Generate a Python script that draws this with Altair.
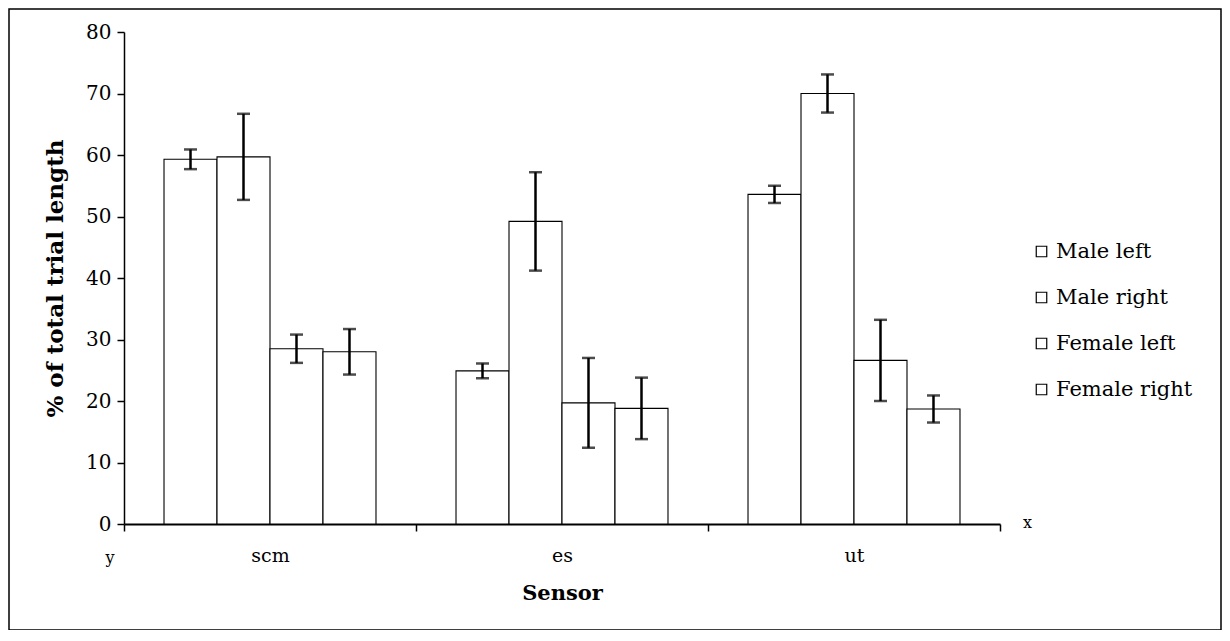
import altair as alt
import pandas as pd

sensors = ["scm", "es", "ut"]
series = ["Male left", "Male right", "Female left", "Female right"]
means = {
    "scm": [59.3, 59.7, 28.5, 28.0],
    "es": [24.9, 49.2, 19.7, 18.8],
    "ut": [53.6, 70.0, 26.6, 18.7],
}
errs = {
    "scm": [1.6, 7.0, 2.3, 3.7],
    "es": [1.2, 8.0, 7.3, 5.0],
    "ut": [1.4, 3.1, 6.6, 2.2],
}

rows = []
for s in sensors:
    for i, g in enumerate(series):
        m, e = means[s][i], errs[s][i]
        rows.append({"Sensor": s, "group": g, "value": m, "lo": m - e, "hi": m + e})
df = pd.DataFrame(rows)

FONT = "DejaVu Serif"
W, H = 876, 492

x = alt.X("Sensor:N", sort=sensors, title="Sensor",
          scale=alt.Scale(paddingInner=0, paddingOuter=0),
          axis=alt.Axis(tickBand="extent", labelAngle=0, labelFontSize=19,
                        labelPadding=15, titleFontSize=21, titlePadding=17,
                        domainWidth=2))
xo = alt.XOffset("group:N", sort=series, scale=alt.Scale(paddingInner=0, paddingOuter=0.755))

base = alt.Chart(df)

bars = base.mark_bar(stroke="black", strokeWidth=1.1).encode(
    x=x,
    xOffset=xo,
    y=alt.Y("value:Q", title="% of total trial length",
            scale=alt.Scale(domain=[0, 80]),
            axis=alt.Axis(values=list(range(0, 81, 10)), grid=False, labelFontSize=20,
                          labelPadding=6, titleFontSize=23, titleX=-69, titleY=H / 2,
                          titleBaseline="middle", titleAngle=270, titleAlign="center",
                          domainWidth=1.5)),
    color=alt.Color("group:N", sort=series, title=None,
                    scale=alt.Scale(range=["white"] * 4),
                    legend=alt.Legend(orient="none", legendX=907, legendY=209,
                                      symbolType="square", symbolSize=110,
                                      symbolStrokeColor="black", symbolStrokeWidth=1.2,
                                      symbolFillColor="white",
                                      labelFont=FONT, labelFontSize=21, labelColor="black",
                                      labelOffset=4, rowPadding=24)),
)

rules = base.mark_rule(color="black", strokeWidth=2.5).encode(
    x=alt.X("Sensor:N", sort=sensors), xOffset=xo, y="lo:Q", y2="hi:Q")
cap_lo = base.mark_tick(color="black", thickness=2.5, size=13).encode(
    x=alt.X("Sensor:N", sort=sensors), xOffset=xo, y="lo:Q")
cap_hi = base.mark_tick(color="black", thickness=2.5, size=13).encode(
    x=alt.X("Sensor:N", sort=sensors), xOffset=xo, y="hi:Q")

xlab = alt.Chart(pd.DataFrame({"t": ["x"]})).mark_text(
    font=FONT, fontSize=16, color="black", align="left", baseline="middle").encode(
    text="t:N", x=alt.value(W + 23), y=alt.value(H - 1))
ylab = alt.Chart(pd.DataFrame({"t": ["y"]})).mark_text(
    font=FONT, fontSize=16, color="black", align="center", baseline="middle").encode(
    text="t:N", x=alt.value(-14), y=alt.value(H + 34))
frame = alt.Chart(pd.DataFrame({"t": [0]})).mark_rect(
    fill=None, stroke="black", strokeWidth=1.5, clip=False).encode(
    x=alt.value(-115), x2=alt.value(1097), y=alt.value(-23), y2=alt.value(598))

chart = alt.layer(bars, rules, cap_lo, cap_hi, xlab, ylab, frame).properties(
    width=W, height=H,
    background="white",
    autosize=alt.AutoSizeParams(type="none"),
    padding={"left": 116, "top": 24, "right": 222, "bottom": 106},
).configure_view(stroke=None).configure_axis(
    labelFont=FONT, titleFont=FONT, labelColor="black", titleColor="black",
    titleFontWeight="bold", domainColor="black", tickColor="black",
    tickSize=7, tickWidth=1.5, grid=False,
)

chart.save("out.html", embed_options={"renderer": "svg", "actions": False})
